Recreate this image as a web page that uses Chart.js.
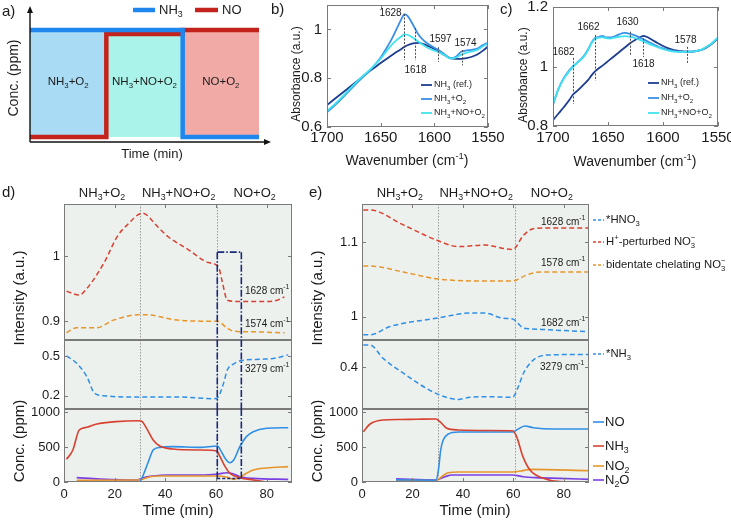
<!DOCTYPE html>
<html>
<head>
<meta charset="utf-8">
<title>NH3 / NO spectra and transients</title>
<script src="https://cdn.jsdelivr.net/npm/chart.js@4.4.1/dist/chart.umd.min.js"></script>
<style>
  html, body { margin: 0; padding: 0; background: #fff; }
  #page { position: relative; width: 731px; height: 522px; overflow: hidden; }
  #page canvas { position: absolute; left: 0; top: 0; }
</style>
</head>
<body>
<div id="page"></div>
<script>
// ---------- data ----------
// a) feed schematic (arbitrary units)
const aStepX = [0, 1, 2, 3];
const aStepNames = ['NH_3+O_2', 'NH_3+NO+O_2', 'NO+O_2'];
const aNH3X = [0, 2, 2, 3];
const aNH3Y = [0.966, 0.966, 0.043, 0.043];
const aNOX = [0, 1, 1, 2, 2, 3];
const aNOY = [0.043, 0.043, 0.931, 0.931, 0.966, 0.966];
const aHigh = 0.966, aLow = 0.043;

// b) spectra, NH3 pre-adsorbed
const specNames = ['NH_3 (ref.)', 'NH_3+O_2', 'NH_3+NO+O_2'];
const bWave = [1700, 1690, 1680, 1670, 1660, 1650, 1645, 1640, 1635, 1630, 1628, 1625, 1620, 1615, 1610, 1605, 1600, 1595, 1590, 1585, 1580, 1575, 1570, 1565, 1560, 1555, 1550];
const bRef = [0.690, 0.725, 0.760, 0.795, 0.830, 0.862, 0.878, 0.893, 0.908, 0.922, 0.928, 0.935, 0.943, 0.945, 0.940, 0.930, 0.920, 0.905, 0.893, 0.882, 0.879, 0.879, 0.882, 0.888, 0.897, 0.912, 0.930];
const bO2 = [0.660, 0.700, 0.745, 0.790, 0.832, 0.885, 0.920, 0.958, 1.003, 1.048, 1.062, 1.055, 1.020, 0.980, 0.955, 0.938, 0.925, 0.913, 0.896, 0.881, 0.888, 0.908, 0.914, 0.916, 0.921, 0.935, 0.945];
const bNO = [0.665, 0.705, 0.750, 0.795, 0.835, 0.880, 0.908, 0.935, 0.957, 0.974, 0.980, 0.978, 0.966, 0.950, 0.935, 0.922, 0.913, 0.905, 0.893, 0.881, 0.884, 0.896, 0.905, 0.910, 0.916, 0.930, 0.942];
const bPeaks = [1628, 1618, 1597, 1574];
const bPeakHi = [1.063, 1.005, 0.927, 0.915];
const bPeakLo = [0.874, 0.874, 0.866, 0.853];

// c) spectra, second sample
const cWave = [1700, 1695, 1690, 1685, 1682, 1678, 1672, 1668, 1665, 1662, 1658, 1655, 1652, 1648, 1645, 1640, 1635, 1630, 1625, 1620, 1618, 1615, 1610, 1605, 1600, 1595, 1590, 1585, 1580, 1575, 1570, 1565, 1560, 1555, 1550];
const cRef = [0.820, 0.842, 0.864, 0.888, 0.905, 0.918, 0.940, 0.955, 0.970, 0.983, 0.995, 1.003, 1.012, 1.024, 1.033, 1.048, 1.063, 1.078, 1.090, 1.100, 1.103, 1.100, 1.090, 1.079, 1.069, 1.061, 1.055, 1.052, 1.050, 1.050, 1.052, 1.056, 1.065, 1.078, 1.095];
const cO2 = [0.872, 0.925, 0.962, 0.988, 1.000, 1.013, 1.035, 1.058, 1.080, 1.095, 1.100, 1.103, 1.098, 1.098, 1.100, 1.108, 1.113, 1.110, 1.104, 1.095, 1.092, 1.086, 1.077, 1.068, 1.061, 1.055, 1.052, 1.050, 1.050, 1.050, 1.052, 1.056, 1.066, 1.079, 1.096];
const cNO = [0.875, 0.925, 0.960, 0.985, 0.998, 1.012, 1.033, 1.056, 1.078, 1.092, 1.097, 1.099, 1.095, 1.094, 1.096, 1.100, 1.102, 1.100, 1.095, 1.088, 1.085, 1.080, 1.072, 1.065, 1.058, 1.053, 1.050, 1.049, 1.049, 1.050, 1.052, 1.057, 1.067, 1.080, 1.098];
const cPeaks = [1682, 1662, 1630, 1618, 1578];
const cPeakHi = [1.029, 1.106, 1.117, 1.106, 1.066];
const cPeakLo = [0.874, 0.952, 1.036, 1.032, 1.012];

// d), e) transients
const timeTicks = [0, 20, 40, 60, 80];
const stepT = [30, 60.5];
const dBoxT = [60.5, 70];
const dBoxTop = 1.006, dBoxBot = 50;

const dRedT = [1, 6, 9, 16, 21, 25, 31, 37, 41, 49, 57, 61, 62.5, 64.5, 69, 76, 83, 87];
const dRedV = [0.946, 0.940, 0.950, 0.991, 1.030, 1.048, 1.066, 1.045, 1.030, 1.010, 0.990, 0.983, 0.960, 0.932, 0.930, 0.930, 0.931, 0.937];
const dOrT = [1, 5, 13, 19.5, 30, 34, 43, 54, 60.5, 64.5, 67, 75, 87];
const dOrV = [0.882, 0.890, 0.890, 0.9015, 0.910, 0.9095, 0.9025, 0.900, 0.900, 0.889, 0.8845, 0.8835, 0.882];
const dNhT = [1, 5, 9, 12, 15.5, 30, 45, 59, 60.5, 63, 64.5, 67, 70, 77.5, 82.5, 88.5];
const dNhV = [0.500, 0.445, 0.345, 0.220, 0.200, 0.190, 0.190, 0.178, 0.183, 0.295, 0.395, 0.440, 0.465, 0.475, 0.480, 0.508];
const dNH3T = [1, 3.5, 6, 9, 13, 20.5, 29, 30.5, 32.6, 35.2, 37.8, 43, 53.7, 60.3, 61.6, 63.6, 65.5, 69.4, 74.7, 80];
const dNH3V = [324, 457, 743, 781, 829, 862, 876, 870, 767, 600, 514, 471, 457, 443, 362, 219, 124, 62, 29, 0];
const dNOT = [30, 31.3, 33.3, 35.2, 37.8, 43, 53.7, 60.6, 61.6, 63.6, 65.5, 67, 69.4, 72, 74.7, 80, 88.5];
const dNOV = [5, 100, 290, 457, 495, 505, 495, 514, 467, 338, 276, 314, 505, 648, 719, 767, 776];
const dNO2T = [5, 29, 31, 34, 37.8, 60.6, 64.5, 67, 69.4, 72, 74.7, 80, 88.5];
const dNO2V = [25, 29, 40, 76, 86, 86, 67, 38, 67, 124, 171, 200, 219];
const dN2OT = [5, 14.2, 29, 31.3, 35.2, 40.5, 54, 60.6, 64.5, 67, 69.4, 74.7, 88.5];
const dN2OV = [62, 43, 29, 62, 86, 100, 100, 114, 133, 114, 76, 52, 38];

const eRedT = [0.5, 3.2, 16.4, 29.3, 38.2, 48.8, 59.7, 64, 67.9, 75, 90];
const eRedV = [1.143, 1.143, 1.123, 1.103, 1.094, 1.096, 1.090, 1.109, 1.118, 1.119, 1.119];
const eOrT = [0.5, 3.2, 16.4, 29.3, 46.8, 59.7, 65.3, 70.6, 90];
const eOrV = [1.068, 1.068, 1.060, 1.051, 1.048, 1.048, 1.056, 1.060, 1.060];
const eBlT = [0.5, 3.2, 11.1, 29.3, 42.8, 48.8, 56, 59.7, 64, 66.6, 90];
const eBlV = [0.976, 0.976, 0.987, 0.998, 1.005, 1.005, 0.998, 0.997, 0.985, 0.984, 0.980];
const eNhT = [0.5, 3.2, 8.4, 16.4, 29.3, 38.2, 42.8, 48.8, 59.7, 62, 64, 67.9, 73.2, 90];
const eNhV = [0.506, 0.506, 0.442, 0.371, 0.275, 0.246, 0.256, 0.259, 0.256, 0.307, 0.371, 0.434, 0.458, 0.461];
const eNH3T = [0.5, 3.2, 8.4, 15, 22, 29.3, 30.9, 33.6, 38.2, 50, 59.7, 61.3, 63.8, 66.6, 71.9, 78.5, 90];
const eNH3V = [719, 829, 886, 893, 897, 900, 862, 767, 743, 736, 733, 648, 362, 171, 52, 5, 0];
const eNOT = [13.5, 29.3, 30.3, 31.2, 32.2, 34.2, 38.2, 59.7, 61.3, 64.6, 67.9, 75.9, 90];
const eNOV = [30, 25, 171, 457, 600, 686, 714, 714, 743, 800, 776, 757, 757];
const eNO2T = [13.5, 29.3, 31.6, 34.2, 38.2, 59.7, 63.8, 66.6, 90];
const eNO2V = [20, 21, 76, 133, 143, 143, 162, 181, 162];
const eN2OT = [13.5, 29.3, 33, 35.6, 59.7, 63.8, 69, 78.5, 90];
const eN2OV = [45, 29, 76, 100, 100, 76, 62, 52, 38];

const bandNames = ['*HNO_3', 'H^+-perturbed NO_3^−', 'bidentate chelating NO_3^−', '*NH_3'];
const gasNames = ['NO', 'NH_3', 'NO_2', 'N_2O'];

// ---------- drawing ----------
const W = 731, H = 522;
const YW = 50, XH = 26;   // fixed axis box sizes
const FONT = '"Liberation Sans", Arial, Helvetica, sans-serif';
const INK = '#1b1b1b';
const COL = {
  nh3a: '#1f86ee', noa: '#c4231c',
  ref: '#1d3d8f', o2: '#3b8fe6', no: '#40e2ef',
  red: '#d8412f', orange: '#e6952b', blue: '#2f8fe6', purple: '#7a3fe4',
  box: '#1b2a78', frame: '#7a7a7a', bg: '#edf1ee'
};
const page = document.getElementById('page');

// text with _sub and ^sup (stacked when both follow each other)
function parseRich(s) {
  const out = [];
  let buf = '';
  for (let i = 0; i < s.length; i++) {
    const ch = s[i];
    if (ch === '_' || ch === '^') {
      if (buf) { out.push({t: buf, k: 0}); buf = ''; }
      let part;
      if (s[i + 1] === '{') { const j = s.indexOf('}', i); part = s.slice(i + 2, j); i = j; }
      else { part = s[i + 1]; i++; }
      out.push({t: part, k: ch === '_' ? 1 : 2});
    } else buf += ch;
  }
  if (buf) out.push({t: buf, k: 0});
  return out;
}

function rich(ctx, s, x, y, size, align, color, rot) {
  const small = size * 0.68;
  ctx.save();
  ctx.translate(x, y);
  if (rot) ctx.rotate(-Math.PI / 2);
  let cx = 0, prev = null;
  const laid = parseRich(s).map(p => {
    ctx.font = (p.k ? small : size) + 'px ' + FONT;
    const w = ctx.measureText(p.t).width;
    let x0 = cx;
    if (p.k && prev && prev.k && prev.k !== p.k) x0 = prev.x;
    cx = Math.max(cx, x0 + w);
    return (prev = {t: p.t, k: p.k, x: x0});
  });
  const off = align === 'center' ? -cx / 2 : align === 'right' ? -cx : 0;
  ctx.fillStyle = color || INK;
  ctx.textBaseline = 'middle';
  ctx.textAlign = 'left';
  laid.forEach(p => {
    ctx.font = (p.k ? small : size) + 'px ' + FONT;
    ctx.fillText(p.t, off + p.x, p.k === 1 ? size * 0.32 : p.k === 2 ? -size * 0.36 : 0);
  });
  ctx.restore();
}

// fixed-size axis box, so the chart area is set by the layout padding
function axis(pos, min, max, ticks, o) {
  o = o || {};
  return {
    type: 'linear', position: pos, min, max, reverse: !!o.reverse,
    display: o.display !== false,
    afterFit: s => {
      if (s.options.display) {
        if (s.isHorizontal()) s.height = XH; else s.width = YW;
      }
      s.paddingLeft = s.paddingRight = s.paddingTop = s.paddingBottom = 0;
    },
    afterBuildTicks: s => { s.ticks = ticks.map(v => ({value: v})); },
    grid: {display: false, drawTicks: false},
    border: {display: false},
    ticks: {
      padding: o.pad == null ? 4 : o.pad, color: INK,
      font: {family: FONT, size: o.size || 13},
      autoSkip: false, maxRotation: 0, callback: v => String(v)
    }
  };
}

function line(xs, ys, color, o) {
  return Object.assign({
    data: xs.map((x, i) => ({x, y: ys[i]})),
    borderColor: color, backgroundColor: color, borderWidth: 1.6,
    pointRadius: 0, fill: false, cubicInterpolationMode: 'monotone'
  }, o || {});
}

function addChart(area, scales, datasets, hooks) {
  const cv = document.createElement('canvas');
  cv.width = W; cv.height = H;
  page.appendChild(cv);
  const yw = scales.y.display ? YW : 0, xh = scales.x.display ? XH : 0;
  return new Chart(cv.getContext('2d'), {
    type: 'line',
    data: {datasets},
    options: {
      responsive: false, animation: false, devicePixelRatio: 1, events: [],
      layout: {padding: {left: area[0] - yw, top: area[1], right: W - area[2], bottom: H - area[3] - xh}},
      plugins: {legend: {display: false}, tooltip: {enabled: false}},
      elements: {point: {radius: 0}},
      scales
    },
    plugins: [{
      id: 'deco',
      beforeDatasetsDraw: c => { if (hooks.under) hooks.under(c); },
      afterDraw: c => { if (hooks.over) hooks.over(c); }
    }]
  });
}

function frame(c, color, xt, yt, sides) {
  const {ctx, chartArea: a} = c;
  const x = c.scales.x, y = c.scales.y;
  ctx.save();
  ctx.strokeStyle = color;
  ctx.lineWidth = 1;
  ctx.strokeRect(a.left + 0.5, a.top + 0.5, a.width - 1, a.height - 1);
  ctx.beginPath();
  yt.forEach(v => {
    const p = Math.round(y.getPixelForValue(v)) + 0.5;
    ctx.moveTo(a.left, p); ctx.lineTo(a.left + 4, p);
    ctx.moveTo(a.right, p); ctx.lineTo(a.right - 4, p);
  });
  xt.forEach(v => {
    const p = Math.round(x.getPixelForValue(v)) + 0.5;
    if (sides.includes('b')) { ctx.moveTo(p, a.bottom); ctx.lineTo(p, a.bottom - 4); }
    if (sides.includes('t')) { ctx.moveTo(p, a.top); ctx.lineTo(p, a.top + 4); }
  });
  ctx.stroke();
  ctx.restore();
}

function seg(ctx, x1, y1, x2, y2, color, width, dash) {
  ctx.save();
  ctx.strokeStyle = color; ctx.lineWidth = width; ctx.setLineDash(dash || []);
  ctx.beginPath(); ctx.moveTo(x1, y1); ctx.lineTo(x2, y2); ctx.stroke();
  ctx.restore();
}

// ---- a) ----
const aFills = ['#a9dcf4', '#aaf3ea', '#f2aaa6'];
addChart([30, 26, 259, 142],
  {x: axis('bottom', 0, 3, [], {display: false}), y: axis('left', 0, 1, [], {display: false})},
  [
    line(aNH3X, aNH3Y, COL.nh3a, {borderWidth: 4.5, cubicInterpolationMode: 'default', tension: 0, borderJoinStyle: 'miter'}),
    line(aNOX, aNOY, COL.noa, {borderWidth: 4.5, cubicInterpolationMode: 'default', tension: 0, borderJoinStyle: 'miter'})
  ].concat(aFills.map((col, i) => line([aStepX[i], aStepX[i + 1]], [aHigh, aHigh], 'rgba(0,0,0,0)',
    {backgroundColor: col, fill: {value: aLow}, borderWidth: 0, cubicInterpolationMode: 'default', tension: 0}))),
  {
    over: c => {
      const ctx = c.ctx, a = c.chartArea, x = c.scales.x;
      // axes with arrows
      ctx.save();
      ctx.strokeStyle = '#111'; ctx.fillStyle = '#111'; ctx.lineWidth = 1.4;
      ctx.beginPath();
      ctx.moveTo(a.left, a.bottom); ctx.lineTo(a.left, a.top - 16);
      ctx.moveTo(a.left, a.bottom); ctx.lineTo(a.right + 8, a.bottom);
      ctx.stroke();
      ctx.beginPath();
      ctx.moveTo(a.left, a.top - 20); ctx.lineTo(a.left - 3, a.top - 13); ctx.lineTo(a.left + 3, a.top - 13); ctx.closePath();
      ctx.moveTo(a.right + 12, a.bottom); ctx.lineTo(a.right + 5, a.bottom - 3); ctx.lineTo(a.right + 5, a.bottom + 3); ctx.closePath();
      ctx.fill();
      ctx.restore();
      aStepNames.forEach((n, i) => rich(ctx, n, x.getPixelForValue((aStepX[i] + aStepX[i + 1]) / 2), 82, 11.5, 'center'));
      rich(ctx, 'Time (min)', 152, 154, 13, 'center');
      rich(ctx, 'Conc. (ppm)', 14, 78, 14, 'center', INK, true);
      rich(ctx, 'a)', 2, 12, 15, 'left');
      // legend
      seg(ctx, 133, 10, 155, 10, COL.nh3a, 4.5);
      rich(ctx, 'NH_3', 159, 10, 13, 'left');
      seg(ctx, 195, 10, 218, 10, COL.noa, 4.5);
      rich(ctx, 'NO', 222, 10, 13, 'left');
    }
  });

// ---- b), c) spectra ----
const specColors = [COL.ref, COL.o2, COL.no];
function peakMarks(c, xs, hi, lo, tags) {
  const ctx = c.ctx, x = c.scales.x, y = c.scales.y;
  xs.forEach((w, i) => {
    const px = Math.round(x.getPixelForValue(w)) + 0.5;
    const yh = y.getPixelForValue(hi[i]), yl = y.getPixelForValue(lo[i]);
    seg(ctx, px, yh, px, yl, '#4a4a4a', 1, [2, 1.5]);
    const t = tags[i];
    rich(ctx, String(w), px + t[0], (t[2] ? yl : yh) + t[1], 10, 'center');
  });
}
function specLegend(c, x0, y0, dy) {
  const ctx = c.ctx;
  specNames.forEach((n, i) => {
    seg(ctx, x0, y0 + i * dy, x0 + 11, y0 + i * dy, specColors[i], 1.8);
    rich(ctx, n, x0 + 13, y0 + i * dy, 9, 'left');
  });
}

addChart([327, 5, 488, 127],
  {x: axis('bottom', 1550, 1700, [1550, 1600, 1650, 1700], {reverse: true, pad: 2, size: 15}),
   y: axis('left', 0.6, 1.1, [0.6, 0.8, 1], {pad: 5, size: 15})},
  [line(bWave, bNO, COL.no, {borderWidth: 1.8}), line(bWave, bO2, COL.o2, {borderWidth: 1.8}), line(bWave, bRef, COL.ref, {borderWidth: 1.8})],
  {
    over: c => {
      frame(c, COL.frame, [1550, 1600, 1650, 1700], [0.6, 0.8, 1], 'bt');
      peakMarks(c, bPeaks, bPeakHi, bPeakLo, [[-14, -1], [0, 10, 1], [2, -8], [3, -7]]);
      specLegend(c, 421, 85, 14);
      rich(c.ctx, 'Wavenumber (cm^{-1})', 407, 161, 14, 'center');
      rich(c.ctx, 'Absorbance (a.u.)', 297, 74, 12, 'center', INK, true);
      rich(c.ctx, 'b)', 271, 10, 15, 'left');
    }
  });

addChart([553, 7, 718, 126],
  {x: axis('bottom', 1550, 1700, [1550, 1600, 1650, 1700], {reverse: true, pad: 3, size: 15}),
   y: axis('left', 0.8, 1.2, [0.8, 1, 1.2], {pad: 5, size: 15})},
  [line(cWave, cNO, COL.no, {borderWidth: 1.8}), line(cWave, cO2, COL.o2, {borderWidth: 1.8}), line(cWave, cRef, COL.ref, {borderWidth: 1.8})],
  {
    over: c => {
      frame(c, COL.frame, [1550, 1600, 1650, 1700], [0.8, 1, 1.2], 'bt');
      peakMarks(c, cPeaks, cPeakHi, cPeakLo, [[-10, -6], [-7, -8], [-3, -9], [0, 7, 1], [-2, -7]]);
      specLegend(c, 648, 83, 15);
      rich(c.ctx, 'Wavenumber (cm^{-1})', 635, 162, 14, 'center');
      rich(c.ctx, 'Absorbance (a.u.)', 524, 75, 12, 'center', INK, true);
      rich(c.ctx, 'c)', 500, 10, 15, 'left');
    }
  });

// ---- d), e) stacked transients ----
function stepLines(c) {
  const ctx = c.ctx, a = c.chartArea, x = c.scales.x;
  ctx.save();
  ctx.fillStyle = COL.bg;
  ctx.fillRect(a.left, a.top, a.width, a.height);
  ctx.restore();
  stepT.forEach(t => {
    const p = Math.round(x.getPixelForValue(t)) + 0.5;
    seg(ctx, p, a.top, p, a.bottom, '#9a9a9a', 1, [1.5, 1.5]);
  });
}

function sub(area, yMin, yMax, yTicks, sets, pos, over) {
  const showX = pos === 'bottom';
  return addChart(area,
    {x: axis('bottom', 0, 90, timeTicks, {display: showX, size: 13, pad: 5}),
     y: axis('left', yMin, yMax, yTicks, {size: 13, pad: 4})},
    sets,
    {
      under: stepLines,
      over: c => {
        frame(c, COL.frame, timeTicks, yTicks, pos === 'top' ? 't' : pos === 'bottom' ? 'b' : '');
        if (over) over(c);
      }
    });
}

const dash = {borderDash: [5, 3], borderWidth: 1.5};
const dashDot = [7, 2, 1.5, 2];

function stepHeaders(c, letter, lx) {
  const x = c.scales.x;
  rich(c.ctx, letter, lx, 193, 15, 'left');
  aStepNames.forEach((n, i) => {
    const t0 = i === 0 ? 0 : stepT[i - 1], t1 = i === 2 ? 90 : stepT[i];
    rich(c.ctx, n, x.getPixelForValue((t0 + t1) / 2), 193, 13, 'center');
  });
}

// d top
sub([64, 204, 292, 340], 0.871, 1.08, [0.9, 1],
  [line(dRedT, dRedV, COL.red, dash), line(dOrT, dOrV, COL.orange, dash)], 'top',
  c => {
    const ctx = c.ctx, x = c.scales.x, y = c.scales.y, a = c.chartArea;
    const x0 = x.getPixelForValue(dBoxT[0]), x1 = x.getPixelForValue(dBoxT[1]), yt = y.getPixelForValue(dBoxTop);
    seg(ctx, x0, yt, x1, yt, COL.box, 1.6, dashDot);
    seg(ctx, x0, yt, x0, a.bottom, COL.box, 1.6, dashDot);
    seg(ctx, x1, yt, x1, a.bottom, COL.box, 1.6, dashDot);
    rich(ctx, '1628 cm^{-1}', 245, 291, 10, 'left');
    rich(ctx, '1574 cm^{-1}', 245, 324, 10, 'left');
    stepHeaders(c, 'd)', 2);
    rich(ctx, 'Intensity (a.u.)', 20, 298, 15, 'center', INK, true);
  });

// d middle
sub([64, 340, 292, 409], 0.10, 0.62, [0.2, 0.5],
  [line(dNhT, dNhV, COL.blue, dash)], 'mid',
  c => {
    const ctx = c.ctx, x = c.scales.x, a = c.chartArea;
    dBoxT.forEach(t => { const p = x.getPixelForValue(t); seg(ctx, p, a.top, p, a.bottom, COL.box, 1.6, dashDot); });
    rich(ctx, '3279 cm^{-1}', 245, 369, 10, 'left');
  });

// d bottom
sub([64, 409, 292, 482], 0, 1043, [0, 500, 1000],
  [line(dNH3T, dNH3V, COL.red), line(dNOT, dNOV, COL.blue), line(dNO2T, dNO2V, COL.orange), line(dN2OT, dN2OV, COL.purple)], 'bottom',
  c => {
    const ctx = c.ctx, x = c.scales.x, y = c.scales.y, a = c.chartArea;
    const x0 = x.getPixelForValue(dBoxT[0]), x1 = x.getPixelForValue(dBoxT[1]), yb = y.getPixelForValue(dBoxBot);
    seg(ctx, x0, a.top, x0, yb, COL.box, 1.6, dashDot);
    seg(ctx, x1, a.top, x1, yb, COL.box, 1.6, dashDot);
    seg(ctx, x0, yb, x1, yb, COL.box, 1.4, [3, 2]);
    rich(ctx, 'Conc. (ppm)', 20, 441, 15, 'center', INK, true);
    rich(ctx, 'Time (min)', 178, 511, 15, 'center');
  });

// e top
const bandColors = [COL.blue, COL.red, COL.orange, COL.blue];
sub([362, 204, 589, 340], 0.969, 1.151, [1, 1.1],
  [line(eRedT, eRedV, COL.red, dash), line(eOrT, eOrV, COL.orange, dash), line(eBlT, eBlV, COL.blue, dash)], 'top',
  c => {
    const ctx = c.ctx;
    rich(ctx, '1628 cm^{-1}', 541, 222, 10, 'left');
    rich(ctx, '1578 cm^{-1}', 541, 263, 10, 'left');
    rich(ctx, '1682 cm^{-1}', 541, 323, 10, 'left');
    stepHeaders(c, 'e)', 309);
    rich(ctx, 'Intensity (a.u.)', 318, 298, 15, 'center', INK, true);
    [220, 242, 265].forEach((yy, i) => {
      seg(ctx, 593, yy, 604, yy, bandColors[i], 1.5, [3, 2]);
      rich(ctx, bandNames[i], 606, yy, 11.3, 'left');
    });
  });

// e middle
sub([362, 340, 589, 409], 0.2, 0.53, [0.4],
  [line(eNhT, eNhV, COL.blue, dash)], 'mid',
  c => {
    const ctx = c.ctx;
    rich(ctx, '3279 cm^{-1}', 540, 367, 10, 'left');
    seg(ctx, 593, 354, 604, 354, bandColors[3], 1.5, [3, 2]);
    rich(ctx, bandNames[3], 606, 354, 11.3, 'left');
  });

// e bottom
const gasColors = [COL.blue, COL.red, COL.orange, COL.purple];
sub([362, 409, 589, 482], 0, 1043, [0, 500, 1000],
  [line(eNH3T, eNH3V, COL.red), line(eNOT, eNOV, COL.blue), line(eNO2T, eNO2V, COL.orange), line(eN2OT, eN2OV, COL.purple)], 'bottom',
  c => {
    const ctx = c.ctx;
    rich(ctx, 'Conc. (ppm)', 318, 441, 15, 'center', INK, true);
    rich(ctx, 'Time (min)', 475, 511, 15, 'center');
    [422, 446, 466, 480].forEach((yy, i) => {
      seg(ctx, 593, yy, 604, yy, gasColors[i], 1.6);
      rich(ctx, gasNames[i], 605, yy, 13, 'left');
    });
  });
</script>
</body>
</html>
